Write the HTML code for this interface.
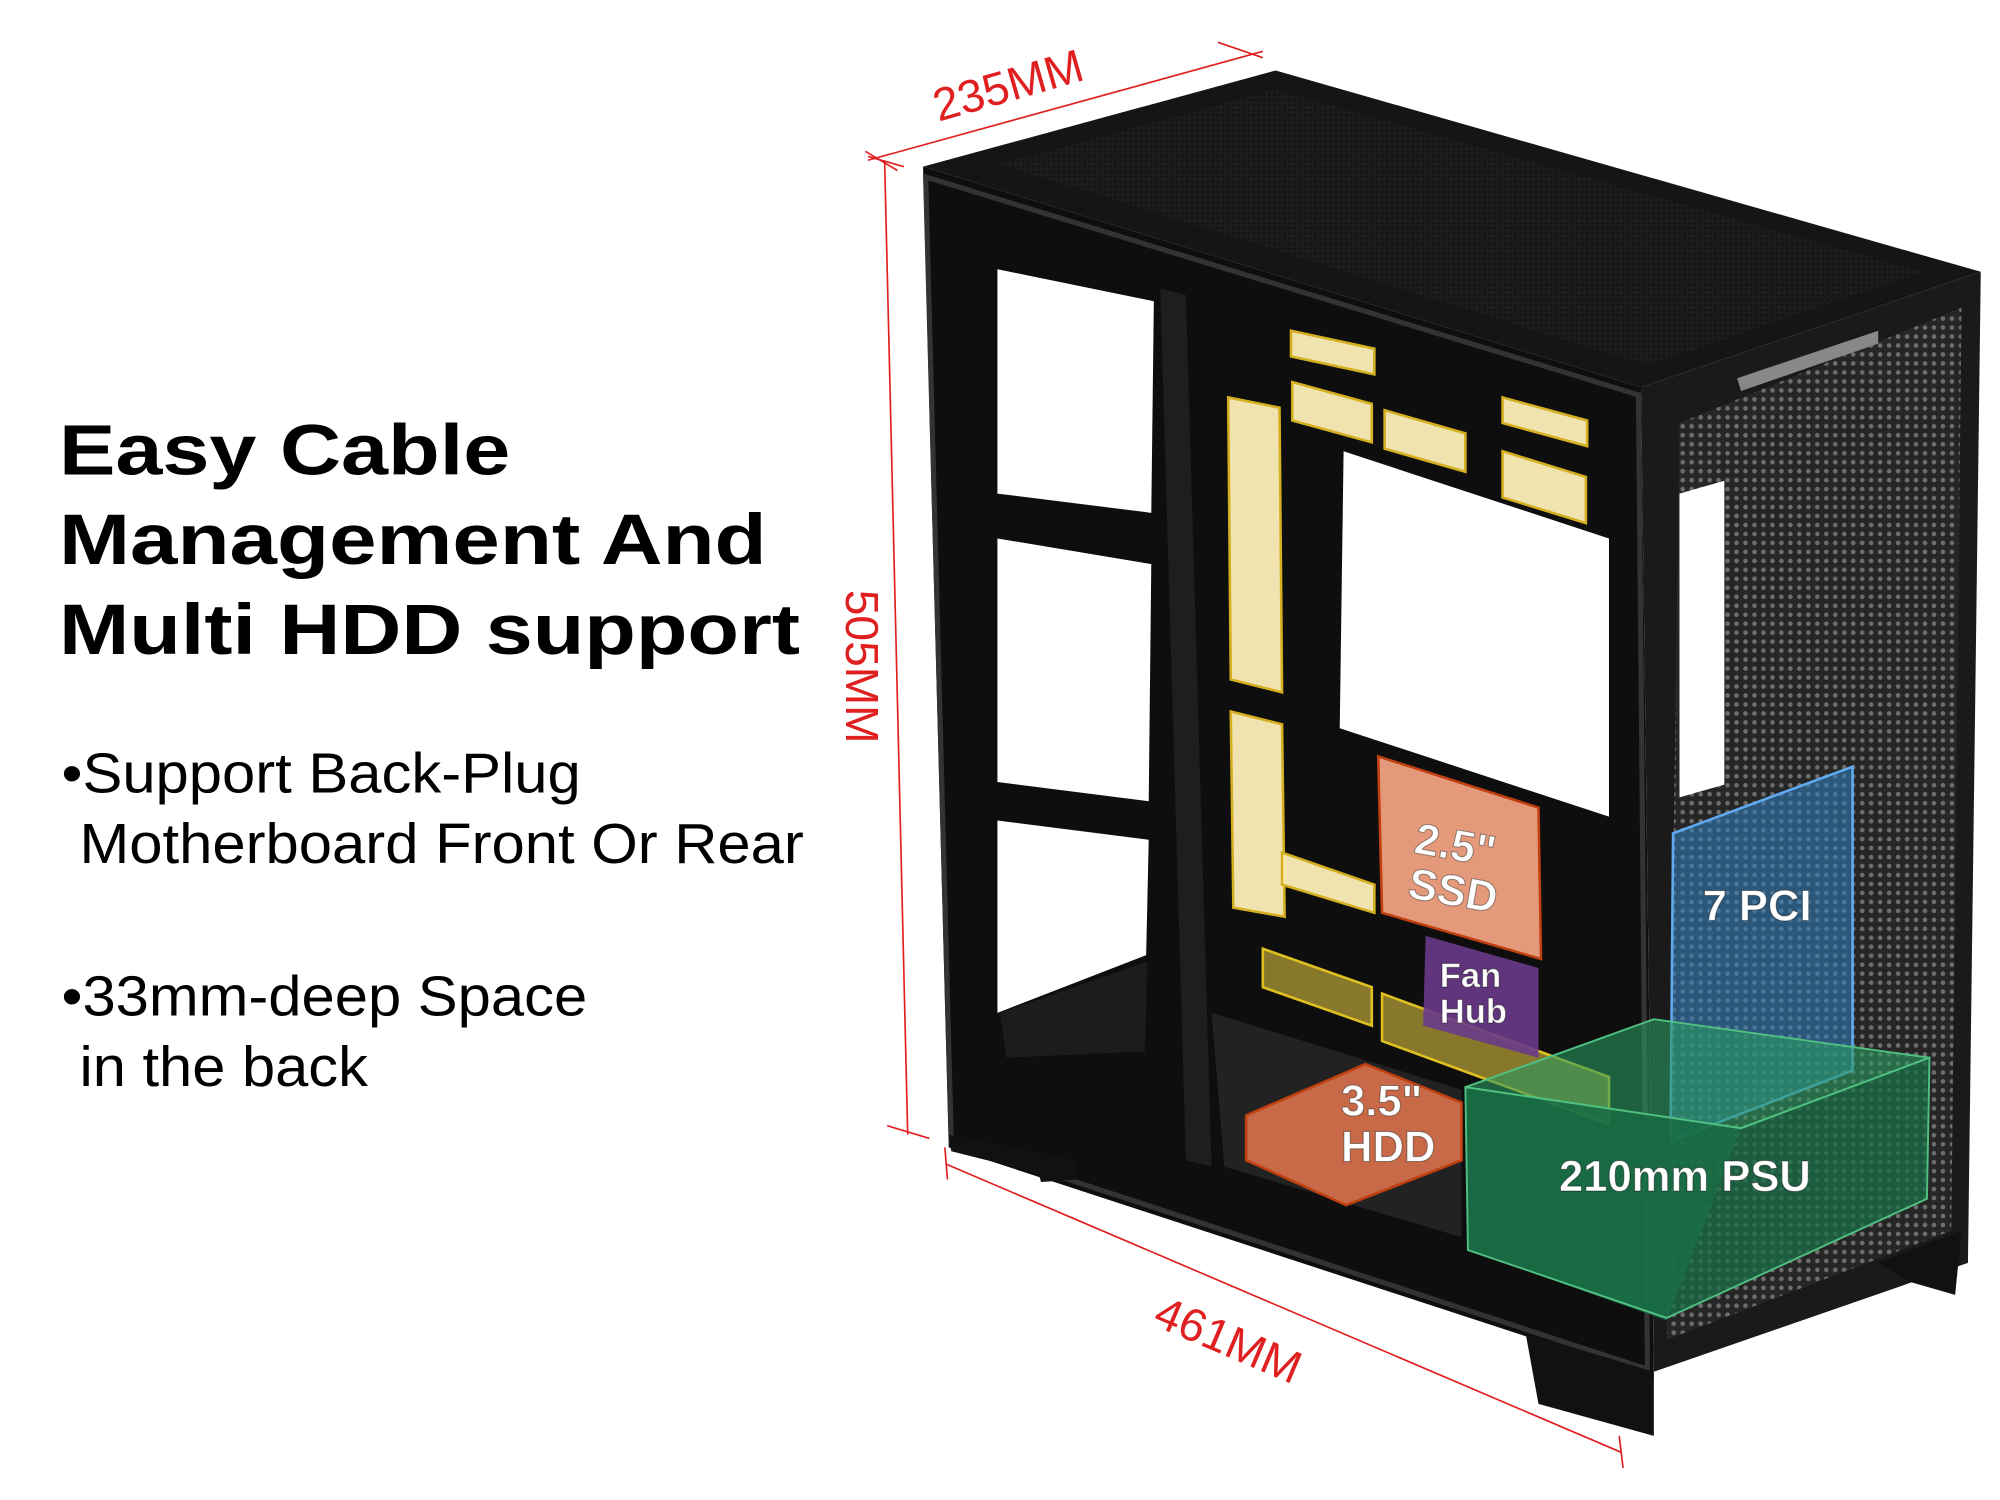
<!DOCTYPE html>
<html><head><meta charset="utf-8"><style>
html,body{margin:0;padding:0;background:#fff;width:2000px;height:1500px;overflow:hidden}
svg{display:block}
</style></head><body>
<svg width="2000" height="1500" viewBox="0 0 1560 1170" xmlns="http://www.w3.org/2000/svg" preserveAspectRatio="none">
<defs>
<pattern id="holes" width="7" height="7" patternUnits="userSpaceOnUse"><rect width="7" height="7" fill="#262626"/><circle cx="3.5" cy="3.5" r="1.8" fill="#6e6e6e"/></pattern>
<pattern id="mesh" width="4" height="4" patternUnits="userSpaceOnUse"><rect width="4" height="4" fill="#1c1c1c"/><circle cx="2" cy="2" r="1" fill="#111"/></pattern>
</defs>
<rect width="1560" height="1170" fill="#fff"/>
<g font-family="Liberation Sans, sans-serif" fill="#000">
<text x="46" y="370" font-size="56" font-weight="bold" textLength="352" lengthAdjust="spacingAndGlyphs">Easy Cable</text>
<text x="46" y="440" font-size="56" font-weight="bold" textLength="552" lengthAdjust="spacingAndGlyphs">Management And</text>
<text x="46" y="510" font-size="56" font-weight="bold" textLength="578" lengthAdjust="spacingAndGlyphs">Multi HDD support</text>
<text x="48" y="618" font-size="44" textLength="405" lengthAdjust="spacingAndGlyphs">•Support Back-Plug</text>
<text x="62" y="673" font-size="44" textLength="565" lengthAdjust="spacingAndGlyphs">Motherboard Front Or Rear</text>
<text x="48" y="792" font-size="44" textLength="410" lengthAdjust="spacingAndGlyphs">•33mm-deep Space</text>
<text x="62" y="847" font-size="44" textLength="225" lengthAdjust="spacingAndGlyphs">in the back</text>
</g>
<g stroke="#e02020" stroke-width="1.3" fill="none">
<line x1="677" y1="125" x2="985" y2="40"/><line x1="675" y1="118" x2="700" y2="133"/><line x1="950" y1="33" x2="985" y2="45"/>
<line x1="690" y1="125" x2="708" y2="885"/><line x1="677" y1="122" x2="705" y2="130"/><line x1="692" y1="878" x2="725" y2="888"/>
<line x1="738" y1="908" x2="1265" y2="1133"/><line x1="737" y1="895" x2="739" y2="920"/><line x1="1263" y1="1120" x2="1266" y2="1145"/>
</g>
<g font-family="Liberation Sans, sans-serif" fill="#e02020" font-size="36">
<text transform="translate(732,95) rotate(-16)">235MM</text>
<text transform="translate(660,460) rotate(90)">505MM</text>
<text transform="translate(898,1033) rotate(23)">461MM</text>
</g>
<polygon points="720,130 995,55 1545,212 1280,302" fill="#151515"/>
<polygon points="780,128 995,70 1500,212 1285,285" fill="url(#mesh)"/>
<polygon points="1280,302 1545,212 1535,985 1290,1070" fill="#1a1a1a"/>
<polygon points="1310,330 1530,240 1522,960 1300,1045" fill="url(#holes)"/>
<polygon points="1355,295 1465,258 1465,268 1358,305" fill="#888"/>
<polygon points="1310,385 1345,375 1345,612 1310,622" fill="#fff"/>
<polygon points="720,130 1280,302 1290,1075 740,895" fill="#0e0e0e"/>
<polygon points="722,138 1278,308 1285,1068 742,890" fill="none" stroke="#333" stroke-width="4"/>
<polygon points="778,210 900,235 898,400 778,385" fill="#fff"/>
<polygon points="778,420 898,440 896,625 778,610" fill="#fff"/>
<polygon points="778,640 896,655 894,745 778,790" fill="#fff"/>
<polygon points="780,790 895,750 893,820 785,825" fill="#1c1c1c"/>
<polygon points="1048,352 1255,420 1255,637 1045,568" fill="#fff"/>
<polygon points="905,225 925,230 945,910 925,905" fill="#1e1e1e"/>
<polygon points="945,790 1140,850 1140,965 955,910" fill="#222"/>
<g fill="#fdefb8" fill-opacity="0.95" stroke="#d4b020" stroke-width="2">
<polygon points="1007,258 1072,272 1072,292 1007,278"/>
<polygon points="1008,298 1070,315 1070,345 1008,328"/>
<polygon points="1080,320 1143,338 1143,368 1080,350"/>
<polygon points="1172,310 1238,328 1238,348 1172,330"/>
<polygon points="1172,352 1237,372 1237,408 1172,388"/>
<polygon points="958,310 998,318 1000,540 960,530"/>
<polygon points="960,555 1000,565 1002,715 962,708"/>
<polygon points="1000,665 1072,690 1072,712 1000,690"/>
</g>
<g fill="#d8c040" fill-opacity="0.6" stroke="#e0c020" stroke-width="2">
<polygon points="985,740 1070,770 1070,800 985,770"/>
<polygon points="1078,775 1255,840 1255,877 1078,812"/>
</g>
<polygon points="1075,590 1200,630 1202,748 1078,712" fill="#e49a7a" stroke="#c04010" stroke-width="2"/>
<polygon points="1112,730 1200,755 1200,825 1110,800" fill="#6a3a8a" fill-opacity="0.9"/>
<polygon points="972,870 1065,830 1140,860 1140,905 1050,940 972,905" fill="#c86a48" stroke="#c04010" stroke-width="2"/>
<polygon points="740,885 840,905 840,920 812,922 810,915 742,898" fill="#111"/>
<polygon points="1190,1040 1290,1070 1290,1120 1200,1095" fill="#111"/>
<polygon points="1465,985 1530,960 1525,1010 1490,1000" fill="#111"/>
<polygon points="1305,650 1445,598 1445,835 1303,890" fill="#3080c0" fill-opacity="0.55" stroke="#60aaf0" stroke-width="2"/>
<polygon points="1143,848 1290,795 1505,825 1358,880" fill="#2a9a60" fill-opacity="0.6" stroke="#50c080" stroke-width="1.5"/>
<polygon points="1143,848 1358,880 1300,1030 1145,975" fill="#1a6a40" fill-opacity="0.8"/>
<polygon points="1358,880 1505,825 1503,935 1300,1028 1145,975 1143,848" fill="#1a7048" fill-opacity="0.75" stroke="#50c080" stroke-width="1.5"/>
<g font-family="Liberation Sans, sans-serif" font-weight="bold" fill="#fff" stroke="#000" stroke-width="0.8" stroke-opacity="0.4">
<text transform="translate(1102,665) rotate(10)" font-size="34">2.5"</text>
<text transform="translate(1097,700) rotate(10)" font-size="34">SSD</text>
<text x="1123" y="770" font-size="27">Fan</text>
<text x="1123" y="798" font-size="27">Hub</text>
<text x="1046" y="870" font-size="34">3.5"</text>
<text x="1046" y="906" font-size="34">HDD</text>
<text x="1328" y="718" font-size="34">7 PCI</text>
<text x="1216" y="929" font-size="34">210mm PSU</text>
</g>
</svg>
</body></html>
